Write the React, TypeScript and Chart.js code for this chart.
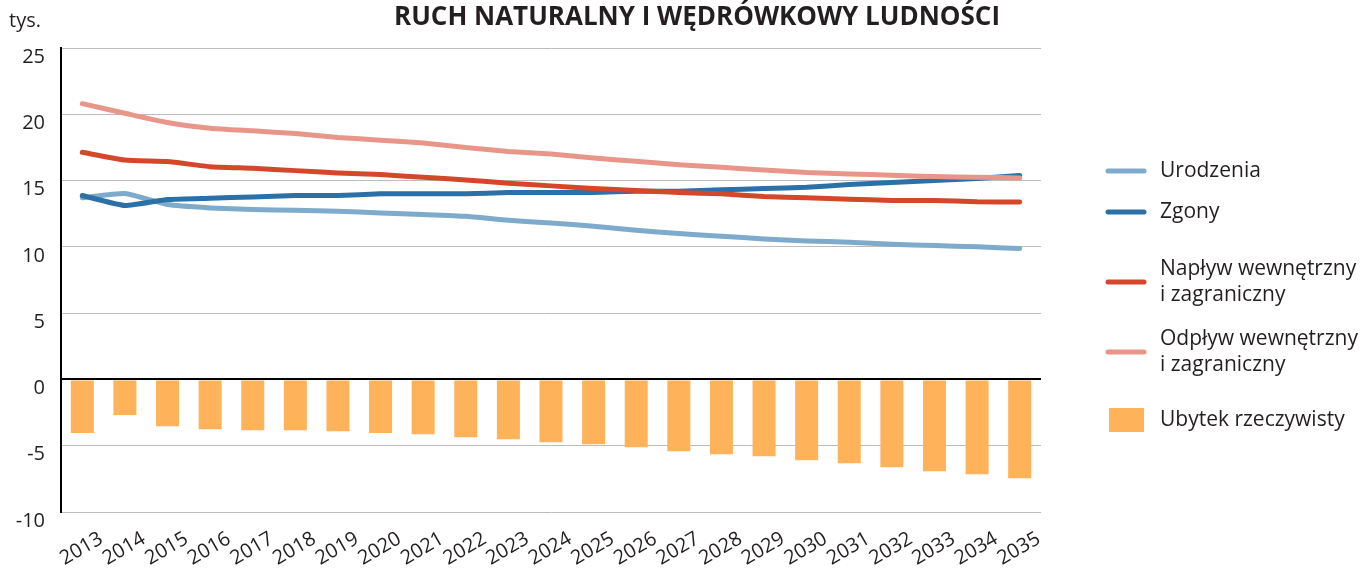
import React, { useEffect, useRef } from 'react';
import { Chart, registerables } from 'chart.js';

Chart.register(...registerables);

const TITLE = 'RUCH NATURALNY I WĘDRÓWKOWY LUDNOŚCI';
const UNIT = 'tys.';

const YEARS = ['2013', '2014', '2015', '2016', '2017', '2018', '2019', '2020', '2021', '2022', '2023', '2024', '2025', '2026', '2027', '2028', '2029', '2030', '2031', '2032', '2033', '2034', '2035'];

const URODZENIA = [13.7, 14.02, 13.19, 12.94, 12.81, 12.76, 12.69, 12.56, 12.44, 12.3, 12.0, 11.8, 11.55, 11.25, 11.0, 10.8, 10.6, 10.45, 10.35, 10.2, 10.1, 10.0, 9.88];
const ZGONY = [13.87, 13.12, 13.57, 13.67, 13.77, 13.87, 13.87, 14.0, 14.0, 14.0, 14.1, 14.1, 14.1, 14.2, 14.2, 14.3, 14.4, 14.5, 14.7, 14.85, 15.0, 15.15, 15.38];
const NAPLYW = [17.13, 16.55, 16.43, 16.05, 15.93, 15.75, 15.58, 15.45, 15.25, 15.05, 14.8, 14.6, 14.4, 14.25, 14.1, 14.0, 13.8, 13.7, 13.6, 13.5, 13.5, 13.4, 13.39];
const ODPLYW = [20.8, 20.08, 19.38, 18.95, 18.75, 18.55, 18.25, 18.05, 17.83, 17.5, 17.2, 17.0, 16.7, 16.45, 16.2, 16.0, 15.8, 15.6, 15.5, 15.4, 15.3, 15.25, 15.2];
const UBYTEK = [-4.05, -2.69, -3.53, -3.75, -3.83, -3.83, -3.91, -4.05, -4.13, -4.36, -4.51, -4.73, -4.89, -5.11, -5.42, -5.64, -5.79, -6.1, -6.32, -6.62, -6.93, -7.15, -7.45];

const LABELS = ['Urodzenia', 'Zgony', 'Napływ wewnętrzny i zagraniczny', 'Odpływ wewnętrzny i zagraniczny', 'Ubytek rzeczywisty'];
const LEGEND_LINES = [['Urodzenia'], ['Zgony'], ['Napływ wewnętrzny', 'i zagraniczny'], ['Odpływ wewnętrzny', 'i zagraniczny'], ['Ubytek rzeczywisty']];

const Y_MIN = -10;
const Y_MAX = 25;
const Y_STEP = 5;

const FONT = '"Open Sans", "Noto Sans", sans-serif';

const textPlugin = {
  id: 'texts',
  afterDraw(chart: any) {
    const ctx = chart.ctx;
    ctx.save();
    ctx.fillStyle = '#231f20';
    ctx.textBaseline = 'middle';
    ctx.font = `bold 26px ${FONT}`;
    ctx.textAlign = 'center';
    ctx.fillText(TITLE, 697, 18);
    ctx.font = `20px ${FONT}`;
    ctx.textAlign = 'left';
    ctx.fillText(UNIT, 9, 21);

    // legend
    const right = chart.chartArea.right;
    const rows = [171, 212, 282, 352, 420];
    const lineH = 26;
    chart.data.datasets.forEach((ds: any, i: number) => {
      const y = rows[i];
      const lines = LEGEND_LINES[i];
      if (ds.type === 'line') {
        ctx.strokeStyle = ds.borderColor;
        ctx.lineWidth = 5;
        ctx.lineCap = 'round';
        ctx.beginPath();
        ctx.moveTo(right + 67, y);
        ctx.lineTo(right + 103, y);
        ctx.stroke();
      } else {
        ctx.fillStyle = ds.backgroundColor;
        ctx.fillRect(right + 68, y - 12, 35, 24);
      }
      ctx.fillStyle = '#231f20';
      ctx.font = `21px ${FONT}`;
      ctx.textAlign = 'left';
      const start = y - ((lines.length - 1) * lineH) / 2;
      lines.forEach((t: string, k: number) => {
        ctx.fillText(t, right + 119, start + k * lineH);
      });
    });
    ctx.restore();
  },
};

export default function App() {
  const ref = useRef<HTMLCanvasElement | null>(null);

  useEffect(() => {
    if (!ref.current) return;
    const lineDs = (label: string, data: number[], color: string, order: number) => ({
      type: 'line' as const,
      label,
      data,
      borderColor: color,
      backgroundColor: color,
      borderWidth: 5,
      pointRadius: 0,
      borderCapStyle: 'round' as const,
      borderJoinStyle: 'round' as const,
      tension: 0.15,
      order,
    });
    const chart = new Chart(ref.current, {
      type: 'bar',
      data: {
        labels: YEARS,
        datasets: [
          lineDs(LABELS[0], URODZENIA, '#7eaacb', 4),
          lineDs(LABELS[1], ZGONY, '#2b70a7', 3),
          lineDs(LABELS[2], NAPLYW, '#d5472b', 2),
          lineDs(LABELS[3], ODPLYW, '#e8968a', 1),
          {
            type: 'bar' as const,
            label: LABELS[4],
            data: UBYTEK,
            backgroundColor: '#feb25a',
            barPercentage: 0.54,
            categoryPercentage: 1,
            order: 10,
          },
        ] as any,
      },
      options: {
        animation: false,
        responsive: true,
        maintainAspectRatio: false,
        layout: { padding: { top: 48, right: 330, left: 0, bottom: 0 } },
        plugins: {
          legend: { display: false },
          title: { display: false },
          tooltip: { enabled: false },
        },
        scales: {
          x: {
            offset: true,
            grid: { display: false },
            border: { display: false },
            ticks: {
              color: '#231f20',
              font: { family: FONT, size: 20 },
              minRotation: 30,
              maxRotation: 30,
              autoSkip: false,
              labelOffset: 19,
              padding: 7,
            },
            afterFit(scale: any) {
              scale.height = 59;
            },
          },
          y: {
            min: Y_MIN,
            max: Y_MAX,
            ticks: {
              stepSize: Y_STEP,
              color: '#231f20',
              font: { family: FONT, size: 20 },
              padding: 16,
              labelOffset: 9,
            },
            grid: {
              drawTicks: false,
              color: (c: any) => (c.tick && c.tick.value === 0 ? '#000000' : '#bdbdbd'),
              lineWidth: (c: any) => (c.tick && c.tick.value === 0 ? 2 : 1),
            },
            border: { display: true, color: '#000000', width: 2 },
            afterFit(scale: any) {
              scale.width = 61;
            },
          },
        },
      },
      plugins: [textPlugin],
    });
    return () => chart.destroy();
  }, []);

  return (
    <div style={{ position: 'fixed', left: 0, top: 0, width: 1371, height: 571, background: '#fff' }}>
      <canvas ref={ref} />
    </div>
  );
}
